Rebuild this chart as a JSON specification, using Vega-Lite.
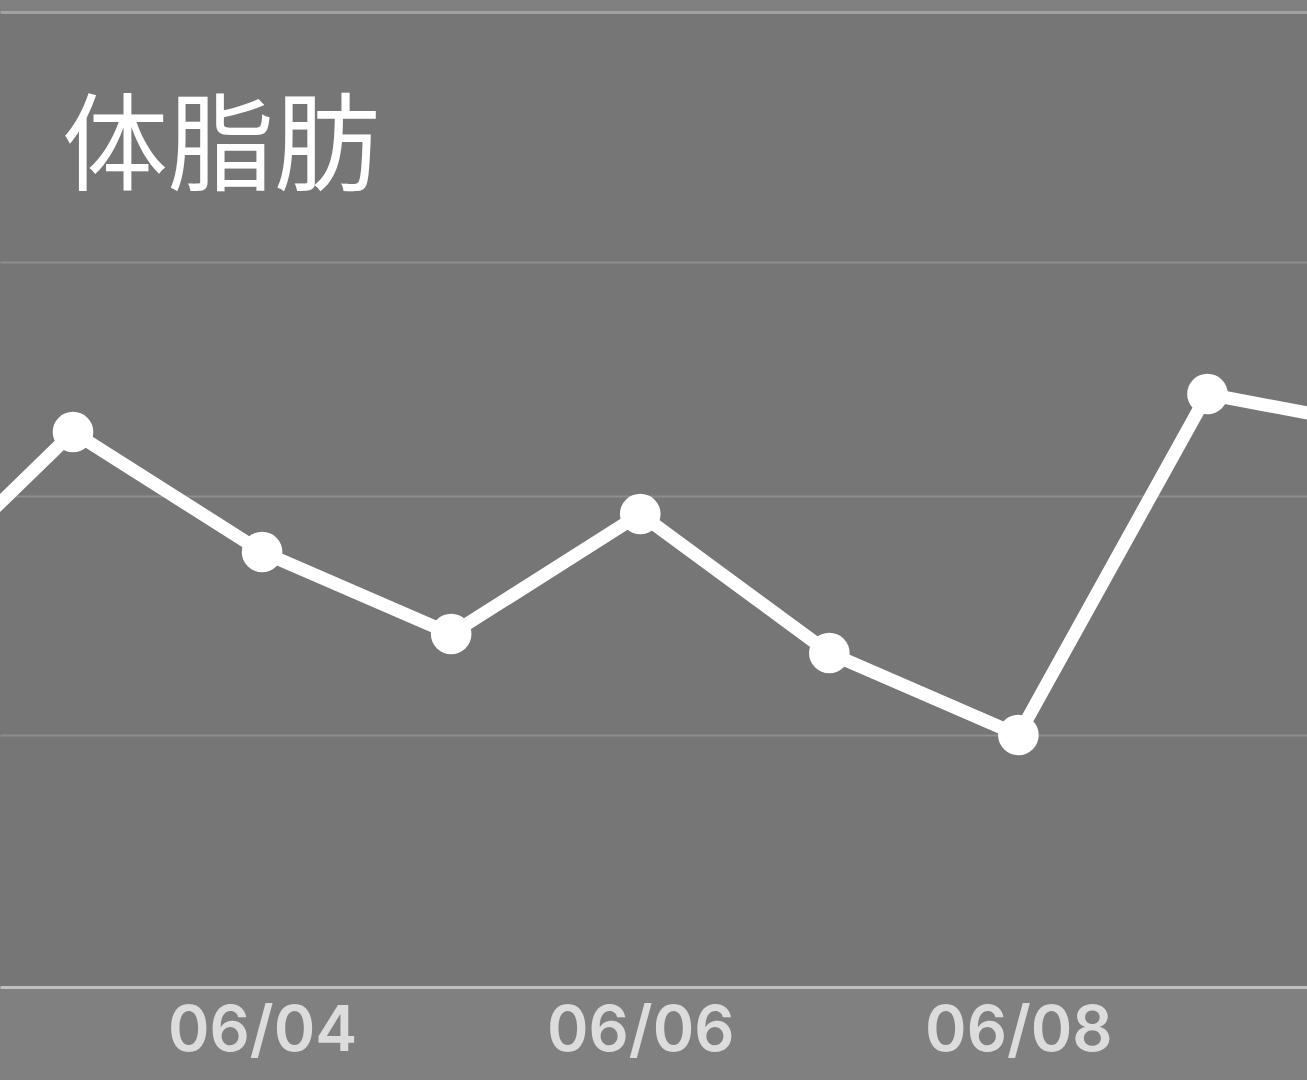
{
  "$schema": "https://vega.github.io/schema/vega-lite/v6.json",
  "width": 1307,
  "height": 975,
  "autosize": "none",
  "padding": {"top": 12, "left": 0, "right": 0, "bottom": 93},
  "background": "#808080",
  "title": {
    "text": "体脂肪",
    "anchor": "start",
    "frame": "group",
    "orient": "top",
    "baseline": "alphabetic",
    "offset": -276,
    "dx": 62,
    "font": "Noto Sans CJK JP",
    "fontSize": 106,
    "fontWeight": "normal",
    "color": "#ffffff"
  },
  "config": {
    "view": {"fill": "#767676", "stroke": null}
  },
  "data": {
    "values": [
      {"date": "2024-06-02", "bodyfat": 18.71},
      {"date": "2024-06-03", "bodyfat": 20.55},
      {"date": "2024-06-04", "bodyfat": 19.35},
      {"date": "2024-06-05", "bodyfat": 18.53},
      {"date": "2024-06-06", "bodyfat": 19.73},
      {"date": "2024-06-07", "bodyfat": 18.34},
      {"date": "2024-06-08", "bodyfat": 17.52},
      {"date": "2024-06-09", "bodyfat": 20.93},
      {"date": "2024-06-10", "bodyfat": 20.57}
    ]
  },
  "encoding": {
    "x": {
      "field": "date",
      "type": "temporal",
      "title": null,
      "scale": {
        "type": "utc",
        "domain": [
          {"year": 2024, "month": 6, "date": 2, "hours": 14, "minutes": 44, "utc": true},
          {"year": 2024, "month": 6, "date": 9, "hours": 12, "minutes": 38, "utc": true}
        ]
      },
      "axis": {
        "values": [
          {"year": 2024, "month": 6, "date": 4, "utc": true},
          {"year": 2024, "month": 6, "date": 6, "utc": true},
          {"year": 2024, "month": 6, "date": 8, "utc": true},
          {"year": 2024, "month": 6, "date": 10, "utc": true}
        ],
        "format": "%m/%d",
        "grid": false,
        "ticks": false,
        "domainColor": "#c0c0c0",
        "domainWidth": 3,
        "labelFont": "Inter",
        "labelFontSize": 63,
        "labelFontWeight": 600,
        "labelColor": "#dcdcdc",
        "labelBaseline": "alphabetic",
        "labelPadding": 63,
        "labelLimit": 0,
        "labelFlush": false,
        "labelOverlap": false
      }
    },
    "y": {
      "field": "bodyfat",
      "type": "quantitative",
      "title": null,
      "scale": {"domain": [15, 24.75], "nice": false, "zero": false},
      "axis": {
        "values": [17.52, 19.91, 22.25, 24.75],
        "labels": false,
        "ticks": false,
        "domain": false,
        "grid": true,
        "gridColor": {"condition": {"test": "datum.value > 24", "value": "#a2a2a2"}, "value": "#8e8e8e"},
        "gridWidth": {"condition": {"test": "datum.value > 24", "value": 3}, "value": 2},
        "gridOpacity": 1
      }
    }
  },
  "layer": [
    {
      "mark": {"type": "line", "color": "#ffffff", "strokeWidth": 13, "clip": true}
    },
    {
      "mark": {"type": "circle", "color": "#ffffff", "opacity": 1, "size": 1650, "clip": true}
    }
  ]
}
